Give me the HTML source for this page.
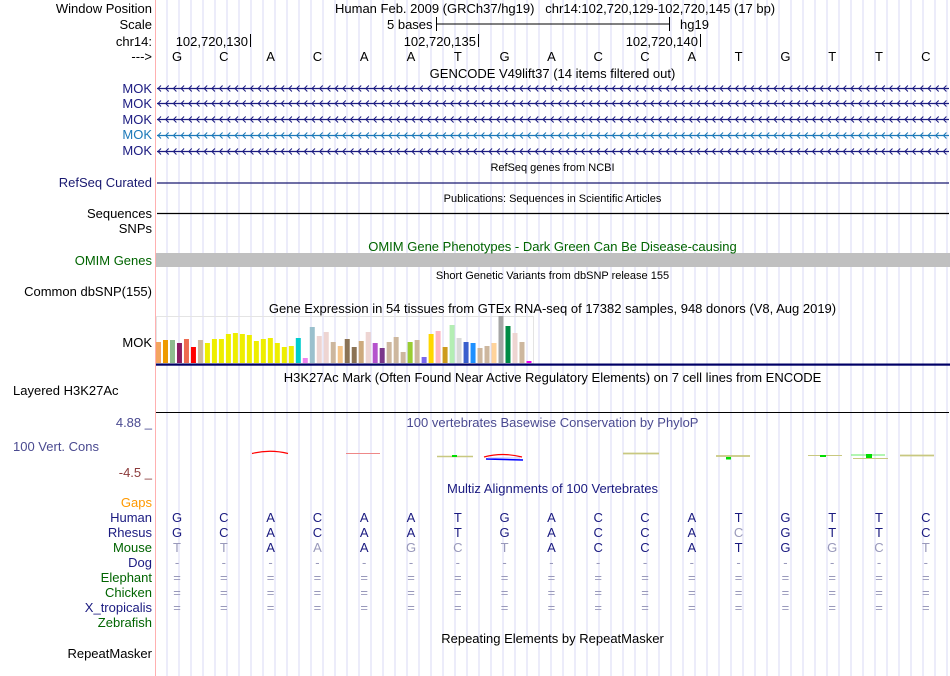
<!DOCTYPE html>
<html><head><meta charset="utf-8"><style>
body{margin:0;background:#fff;width:950px;height:676px;overflow:hidden;position:relative;font-family:"Liberation Sans",sans-serif;font-size:13px;color:#000}
.t{position:absolute;white-space:nowrap;line-height:15px}
.r{position:absolute;white-space:nowrap;line-height:15px;text-align:right}
.l{position:absolute;right:798px;white-space:nowrap;line-height:15px;text-align:right}
.c{position:absolute;left:155px;width:795px;text-align:center;white-space:nowrap;line-height:15px}
svg{position:absolute;left:0;top:0}
</style></head><body>
<svg id="bg" width="950" height="676"></svg>

<div class="l" style="top:1px">Window Position</div>
<div class="l" style="top:17px">Scale</div>
<div class="l" style="top:34px">chr14:</div>
<div class="l" style="top:49px">---&gt;</div>
<div class="t" style="left:335px;top:1px">Human Feb. 2009 (GRCh37/hg19) &nbsp;&nbsp;chr14:102,720,129-102,720,145 (17 bp)</div>
<div class="t" style="left:387px;top:17px">5 bases</div>
<div class="t" style="left:680px;top:17px">hg19</div>
<div class="r" style="right:702px;top:34px">102,720,130</div>
<div class="r" style="right:474px;top:34px">102,720,135</div>
<div class="r" style="right:252px;top:34px">102,720,140</div>
<div class="c" style="top:66px">GENCODE V49lift37 (14 items filtered out)</div>

<div class="l" style="top:81px;color:#1a1a80">MOK</div>
<div class="l" style="top:96px;color:#1a1a80">MOK</div>
<div class="l" style="top:112px;color:#1a1a80">MOK</div>
<div class="l" style="top:127px;color:#1a78b8">MOK</div>
<div class="l" style="top:143px;color:#1a1a80">MOK</div>

<div class="c" style="top:161px;font-size:11px">RefSeq genes from NCBI</div>
<div class="l" style="top:175px;color:#191970">RefSeq Curated</div>
<div class="c" style="top:192px;font-size:11px">Publications: Sequences in Scientific Articles</div>
<div class="l" style="top:206px">Sequences</div>
<div class="l" style="top:221px">SNPs</div>
<div class="c" style="top:239px;color:#006400">OMIM Gene Phenotypes - Dark Green Can Be Disease-causing</div>
<div class="l" style="top:253px;color:#006400">OMIM Genes</div>
<div class="c" style="top:269px;font-size:11px">Short Genetic Variants from dbSNP release 155</div>
<div class="l" style="top:284px">Common dbSNP(155)</div>
<div class="c" style="top:301px">Gene Expression in 54 tissues from GTEx RNA-seq of 17382 samples, 948 donors (V8, Aug 2019)</div>
<div class="l" style="top:335px">MOK</div>
<div class="c" style="top:370px">H3K27Ac Mark (Often Found Near Active Regulatory Elements) on 7 cell lines from ENCODE</div>
<div class="t" style="left:13px;top:383px">Layered H3K27Ac</div>
<div class="l" style="top:415px;color:#4a4a90">4.88 _</div>
<div class="c" style="top:415px;color:#4a4a90">100 vertebrates Basewise Conservation by PhyloP</div>
<div class="t" style="left:13px;top:439px;color:#4a4a90">100 Vert. Cons</div>
<div class="l" style="top:465px;color:#8b3a3a">-4.5 _</div>
<div class="c" style="top:481px;color:#1a1a80">Multiz Alignments of 100 Vertebrates</div>
<div class="l" style="top:495px;color:#ff9900">Gaps</div>
<div class="l" style="top:510px;color:#1a1a80">Human</div>
<div class="l" style="top:525px;color:#1a1a80">Rhesus</div>
<div class="l" style="top:540px;color:#006400">Mouse</div>
<div class="l" style="top:555px;color:#1a1a80">Dog</div>
<div class="l" style="top:570px;color:#006400">Elephant</div>
<div class="l" style="top:585px;color:#006400">Chicken</div>
<div class="l" style="top:600px;color:#1a1a80">X_tropicalis</div>
<div class="l" style="top:615px;color:#006400">Zebrafish</div>
<div class="c" style="top:631px">Repeating Elements by RepeatMasker</div>
<div class="l" style="top:646px">RepeatMasker</div>

<script>
const bases=['G','C','A','C','A','A','T','G','A','C','C','A','T','G','T','T','C'];
const rhesus=['G','C','A','C','A','A','T','G','A','C','C','A','C','G','T','T','C'];
const mouse=['T','T','A','A','A','G','C','T','A','C','C','A','T','G','G','C','T'];
const gtexValues=[21,23,23,20,24,16,23,20,24,24,29,30,29,28,22,24,25,20,16,17,25,5,36,27,31,21,17,24,16,22,31,20,15,21,26,11,21,23,6,29,32,16,38,25,21,20,15,17,20,47,37,30,21,2];
const gtexColors=['#f4a460','#ee9a00','#8fbc8f','#8b1c62','#ee6a50','#ff0000','#cdb79e','#eeee00','#eeee00','#eeee00','#eeee00','#eeee00','#eeee00','#eeee00','#eeee00','#eeee00','#eeee00','#eeee00','#eeee00','#eeee00','#00cdcd','#ee82ee','#9ac0cd','#eed5d2','#eed5d2','#cdb79e','#f5c58a','#8b7355','#8b7355','#cdaa7d','#eed5d2','#b452cd','#7a378b','#cdb79e','#cdb79e','#cdb79e','#9acd32','#cdb79e','#7b68ee','#ffd700','#ffb6c1','#cd9b1d','#b4eeb4','#d9d9d9','#3a5fcd','#1e90ff','#cdb79e','#cdb79e','#ffd39b','#a6a6a6','#008b45','#eed5d2','#cdb79e','#ee00ee'];
const NS='http://www.w3.org/2000/svg';
const svg=document.getElementById('bg');
function mk(tag,attrs){const e=document.createElementNS(NS,tag);for(const k in attrs)e.setAttribute(k,attrs[k]);svg.appendChild(e);return e;}
const baseX=i=>177+46.8*i;
for(let x=167;x<950;x+=12){const g=mk('line',{x1:x,y1:0,x2:x,y2:676,stroke:'#d8d8f4','stroke-width':1});

}
const sep=mk('line',{x1:155.5,y1:0,x2:155.5,y2:676,stroke:'#ffb0b0','stroke-width':1});


mk('line',{x1:436,y1:24,x2:669,y2:24,stroke:'#000'});
mk('line',{x1:436.5,y1:17,x2:436.5,y2:31,stroke:'#000'});
mk('line',{x1:669.5,y1:17,x2:669.5,y2:31,stroke:'#000'});
[250,478,700].forEach(x=>mk('line',{x1:x+.5,y1:34,x2:x+.5,y2:47,stroke:'#000'}));
bases.forEach((b,i)=>{const t=mk('text',{x:baseX(i),y:61,'text-anchor':'middle','font-size':13,'font-family':'Liberation Sans, sans-serif'});t.textContent=b;

});
const geneY=[88,103,119,135,151],geneC=['#1a1a80','#1a1a80','#1a1a80','#1a78b8','#1a1a80'];
geneY.forEach((y,j)=>{const ln=mk('line',{x1:157,y1:y+.5,x2:949,y2:y+.5,stroke:geneC[j],'stroke-width':1.3});


let d='';for(let x=158;x<949;x+=7.7)d+=`M${x+3},${y-2.5}L${x},${y+.5}L${x+3},${y+3.5}`;
mk('path',{d:d,stroke:geneC[j],fill:'none','stroke-width':1});});
mk('line',{x1:157,y1:183,x2:949,y2:183,stroke:'#191970','stroke-width':1.3});
mk('line',{x1:157,y1:213.5,x2:949,y2:213.5,stroke:'#000','stroke-width':1.3});
const om=mk('rect',{x:156,y:253,width:794,height:14,fill:'#c0c0c0'});


mk('rect',{x:156.5,y:316.5,width:377,height:47,fill:'none',stroke:'#e4e4e4'});
const base=363,x0=156;
gtexValues.forEach((v,i)=>{const r=mk('rect',{x:x0+i*6.99,y:base-v,width:5,height:v,fill:gtexColors[i]});

});
mk('rect',{x:156,y:363.5,width:794,height:2.2,fill:'#000066'});
mk('line',{x1:156,y1:412.5,x2:949,y2:412.5,stroke:'#000','stroke-width':1});
mk('path',{d:'M252,453.5 Q270,449 288,453.5',stroke:'#f00',fill:'none','stroke-width':1.2});
mk('line',{x1:346,y1:453.5,x2:380,y2:453.5,stroke:'#e88','stroke-width':1});
mk('line',{x1:437,y1:456.5,x2:473,y2:456.5,stroke:'#c8c880','stroke-width':1.5});
mk('rect',{x:452,y:455,width:5,height:2,fill:'#0d0'});
mk('path',{d:'M484,457 Q503,452 522,457',stroke:'#f00',fill:'none','stroke-width':1.2});
mk('path',{d:'M486,459 L523,460',stroke:'#00f',fill:'none','stroke-width':1.5});
mk('line',{x1:488,y1:458,x2:520,y2:458,stroke:'#bbf','stroke-width':1});
mk('line',{x1:623,y1:453.5,x2:659,y2:453.5,stroke:'#c8c880','stroke-width':1.8});
mk('line',{x1:716,y1:456,x2:750,y2:456,stroke:'#c8c880','stroke-width':1.8});
mk('rect',{x:726,y:457,width:5,height:2.5,fill:'#0d0'});
mk('line',{x1:808,y1:455.5,x2:842,y2:455.5,stroke:'#c8c880','stroke-width':1});
mk('rect',{x:820,y:455,width:6,height:2,fill:'#0d0'});
mk('line',{x1:851,y1:455,x2:885,y2:455,stroke:'#6e6','stroke-width':1});
mk('rect',{x:866,y:454,width:6,height:4,fill:'#0d0'});
mk('line',{x1:853,y1:458.5,x2:888,y2:458.5,stroke:'#c8c880','stroke-width':1});
mk('line',{x1:900,y1:455.5,x2:934,y2:455.5,stroke:'#c8c880','stroke-width':1.8});
function row(arr,y,ref){arr.forEach((b,i)=>{const t=mk('text',{x:baseX(i),y:y,'text-anchor':'middle','font-size':13,'font-family':'Liberation Sans, sans-serif',fill:(ref&&b!==ref[i])?'#9999bb':'#1a1a80'});t.textContent=b;

});}
row(bases,522,null);row(rhesus,537,bases);row(mouse,552,bases);
row(bases.map(()=>'-'),567,bases);
[582,597,612].forEach(y=>row(bases.map(()=>'='),y,bases));
</script>
</body></html>
